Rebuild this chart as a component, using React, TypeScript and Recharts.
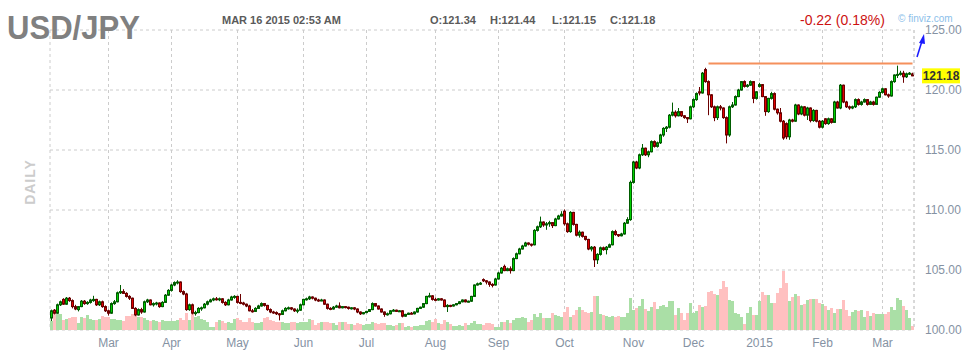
import React from "react";
import { Bar, CartesianGrid, Cell, ComposedChart, ReferenceLine, XAxis, YAxis } from "recharts";

// [open, high, low, close, volume] per trading day, grouped by month
type Candle = [number, number, number, number, number];

const feb14: Candle[] = [
  [101.0, 101.7, 100.75, 101.6, 9], [101.65, 101.75, 101.3, 101.4, 18], [101.4, 102.2, 101.35, 102.1, 16],
  [102.1, 102.45, 102.0, 102.35, 16], [102.55, 102.65, 102.1, 102.15, 10], [102.15, 102.75, 102.1, 102.65, 11],
  [102.65, 102.75, 102.35, 102.45, 12], [102.45, 102.55, 101.8, 101.95, 13], [101.95, 102.1, 101.65, 101.75, 13],
  [101.7, 102.0, 101.55, 101.95, 7], [101.95, 102.5, 101.9, 102.4, 13], [102.4, 102.5, 102.1, 102.2, 12],
  [102.2, 102.4, 102.1, 102.3, 15], [102.3, 102.6, 102.2, 102.5, 11], [102.45, 102.85, 102.35, 102.55, 10],
  [102.55, 102.6, 102.0, 102.1, 10], [102.1, 102.45, 102.0, 102.35, 11], [102.35, 102.45, 101.85, 101.95, 14],
  [101.95, 102.05, 101.5, 101.6, 13],
];
const mar14: Candle[] = [
  [101.6, 101.7, 101.2, 101.4, 13], [101.4, 102.3, 101.35, 102.2, 11], [102.2, 102.5, 102.1, 102.35, 11],
  [102.35, 103.2, 102.3, 103.1, 10], [103.1, 103.75, 103.0, 103.2, 10], [103.2, 103.4, 103.0, 103.05, 9],
  [103.05, 103.15, 102.7, 102.8, 14], [102.8, 102.9, 102.5, 102.65, 14], [102.65, 102.7, 101.75, 101.8, 16],
  [101.8, 101.9, 101.15, 101.25, 14], [101.25, 101.8, 101.2, 101.7, 13], [101.7, 101.85, 101.35, 101.5, 13],
  [101.5, 102.45, 101.45, 102.35, 12], [102.35, 102.6, 102.25, 102.5, 10], [102.5, 102.55, 102.05, 102.1, 9],
  [102.1, 102.3, 101.95, 102.2, 10], [102.2, 102.35, 102.05, 102.25, 9], [102.25, 102.3, 101.85, 101.95, 8],
  [101.95, 102.4, 101.9, 102.3, 10], [102.3, 103.0, 102.25, 102.9, 9], [102.9, 103.4, 102.85, 103.3, 9],
];
const apr14: Candle[] = [
  [103.3, 103.85, 103.2, 103.75, 9], [103.75, 104.05, 103.65, 103.95, 9], [103.95, 104.15, 103.8, 104.0, 10],
  [104.0, 104.05, 103.1, 103.2, 12], [103.2, 103.3, 102.9, 103.0, 10], [103.0, 103.1, 101.6, 101.7, 17],
  [101.7, 102.2, 101.6, 102.1, 10], [102.1, 102.2, 101.3, 101.4, 16], [101.4, 101.6, 101.2, 101.45, 13],
  [101.45, 101.9, 101.4, 101.8, 14], [101.8, 101.95, 101.6, 101.85, 11], [101.85, 102.25, 101.8, 102.15, 10],
  [102.15, 102.45, 102.05, 102.35, 8], [102.35, 102.6, 102.3, 102.5, 3], [102.5, 102.7, 102.4, 102.6, 3],
  [102.6, 102.75, 102.45, 102.55, 8], [102.55, 102.7, 102.4, 102.6, 10], [102.6, 102.65, 102.2, 102.3, 9],
  [102.3, 102.4, 102.0, 102.1, 7], [102.1, 102.6, 102.05, 102.5, 8], [102.5, 102.85, 102.45, 102.75, 7],
  [102.75, 102.9, 102.6, 102.8, 11],
];
const may14: Candle[] = [
  [102.8, 102.85, 102.2, 102.3, 12], [102.3, 103.0, 102.15, 102.25, 10], [102.25, 102.35, 102.05, 102.15, 8],
  [102.15, 102.2, 101.9, 102.0, 8], [102.0, 102.1, 101.55, 101.6, 12], [101.6, 101.75, 101.45, 101.55, 8],
  [101.55, 101.9, 101.5, 101.8, 7], [101.8, 102.1, 101.75, 102.0, 7], [102.0, 102.3, 101.95, 102.2, 8],
  [102.2, 102.25, 101.95, 102.05, 12], [102.05, 102.1, 101.6, 101.7, 13], [101.7, 101.8, 101.4, 101.5, 10],
  [101.5, 101.6, 101.35, 101.45, 9], [101.45, 101.55, 101.25, 101.35, 8], [101.35, 101.4, 100.8, 101.3, 8],
  [101.3, 101.7, 101.25, 101.6, 8], [101.6, 101.9, 101.55, 101.8, 7], [101.8, 101.95, 101.7, 101.85, 7],
  [101.85, 101.9, 101.65, 101.75, 8], [101.75, 101.8, 101.5, 101.6, 8], [101.6, 101.8, 101.4, 101.65, 7],
  [101.65, 102.2, 101.6, 102.1, 8],
];
const jun14: Candle[] = [
  [102.1, 102.6, 102.05, 102.55, 8], [102.55, 102.7, 102.45, 102.6, 8], [102.6, 102.85, 102.5, 102.75, 11],
  [102.75, 102.8, 102.55, 102.65, 10], [102.65, 102.7, 102.4, 102.5, 5], [102.5, 102.6, 102.35, 102.45, 7],
  [102.45, 102.6, 102.4, 102.5, 8], [102.5, 102.55, 102.1, 102.15, 8], [102.15, 102.2, 101.7, 101.8, 8],
  [101.8, 101.9, 101.65, 101.75, 7], [101.75, 102.0, 101.7, 101.9, 7], [101.9, 102.1, 101.85, 102.0, 5],
  [102.0, 102.3, 101.8, 101.85, 8], [101.85, 102.0, 101.8, 101.95, 8], [101.95, 102.0, 101.8, 101.9, 8],
  [101.9, 101.95, 101.7, 101.8, 6], [101.8, 101.9, 101.7, 101.85, 6], [101.85, 101.9, 101.65, 101.75, 5],
  [101.75, 101.8, 101.4, 101.5, 7], [101.5, 101.55, 101.25, 101.35, 6], [101.35, 101.5, 101.3, 101.45, 5],
];
const jul14: Candle[] = [
  [101.45, 101.6, 101.4, 101.55, 6], [101.55, 101.75, 101.5, 101.7, 6], [101.7, 102.3, 101.65, 102.2, 8],
  [102.2, 102.25, 101.95, 102.0, 7], [102.0, 102.05, 101.7, 101.75, 6], [101.75, 101.8, 101.45, 101.5, 7],
  [101.5, 101.55, 101.1, 101.3, 7], [101.3, 101.45, 101.2, 101.35, 5], [101.35, 101.65, 101.3, 101.6, 5],
  [101.6, 101.75, 101.55, 101.65, 4], [101.65, 101.7, 101.5, 101.55, 5], [101.55, 101.65, 101.5, 101.6, 7],
  [101.6, 101.65, 101.05, 101.15, 7], [101.15, 101.35, 101.1, 101.3, 3], [101.3, 101.45, 101.25, 101.4, 4],
  [101.4, 101.5, 101.3, 101.35, 3], [101.35, 101.55, 101.3, 101.5, 4], [101.5, 101.85, 101.45, 101.8, 4],
  [101.8, 101.95, 101.75, 101.9, 5], [101.9, 102.25, 101.85, 102.2, 5], [102.2, 102.85, 102.15, 102.8, 9],
  [102.8, 103.1, 102.7, 102.85, 10], [102.85, 102.9, 102.45, 102.55, 8],
];
const aug14: Candle[] = [
  [102.55, 102.7, 102.4, 102.5, 11], [102.5, 102.65, 102.45, 102.6, 7], [102.6, 102.65, 102.45, 102.5, 6],
  [102.5, 102.55, 101.9, 101.95, 10], [101.95, 102.15, 101.5, 102.05, 8], [102.05, 102.1, 101.9, 102.0, 6],
  [102.0, 102.15, 101.95, 102.1, 4], [102.1, 102.25, 102.05, 102.2, 4], [102.2, 102.4, 102.15, 102.35, 5],
  [102.35, 102.55, 102.3, 102.5, 4], [102.5, 102.55, 102.3, 102.35, 7], [102.35, 102.45, 102.3, 102.4, 5],
  [102.4, 102.85, 102.35, 102.8, 7], [102.8, 103.8, 102.75, 103.75, 9], [103.75, 103.95, 103.7, 103.85, 6],
  [103.85, 104.0, 103.75, 103.9, 6], [104.2, 104.3, 104.0, 104.1, 5], [104.1, 104.15, 103.8, 104.0, 7],
  [104.0, 104.05, 103.6, 103.8, 7], [103.8, 103.9, 103.55, 103.75, 6], [103.75, 104.35, 103.7, 104.25, 3],
];
const sep14: Candle[] = [
  [104.25, 104.85, 104.2, 104.75, 3], [104.75, 105.25, 104.7, 105.15, 8], [105.3, 105.45, 104.9, 104.95, 8],
  [104.95, 105.2, 104.9, 105.1, 10], [105.1, 105.3, 104.7, 104.95, 7], [104.95, 106.05, 104.9, 105.95, 10],
  [105.95, 106.45, 105.9, 106.35, 12], [106.35, 106.85, 106.3, 106.75, 12], [106.75, 107.1, 106.7, 107.0, 13],
  [107.0, 107.35, 106.95, 107.25, 12], [107.25, 107.3, 107.05, 107.15, 8], [107.15, 107.2, 106.95, 107.1, 10],
  [107.1, 108.4, 107.05, 108.3, 16], [108.3, 108.7, 108.2, 108.6, 13], [108.6, 109.45, 108.5, 109.0, 17],
  [109.0, 109.05, 108.6, 108.75, 12], [108.75, 109.0, 108.35, 108.85, 12], [108.85, 109.1, 108.6, 108.95, 12],
  [108.95, 109.0, 108.5, 108.7, 17], [108.7, 109.35, 108.65, 109.25, 15], [109.25, 109.6, 109.2, 109.5, 14],
  [109.5, 109.9, 109.45, 109.65, 13],
];
const oct14: Candle[] = [
  [109.9, 110.05, 108.7, 108.85, 18], [108.85, 108.95, 108.1, 108.2, 23], [108.2, 109.9, 108.1, 109.8, 13],
  [109.8, 109.85, 108.7, 108.8, 15], [108.8, 108.85, 107.8, 107.9, 20], [107.9, 108.3, 107.7, 108.15, 23],
  [108.15, 108.2, 107.7, 107.8, 20], [107.8, 107.85, 107.45, 107.55, 18], [107.55, 107.6, 106.65, 106.75, 17],
  [106.75, 107.0, 106.55, 106.9, 18], [106.9, 107.0, 105.25, 105.85, 34], [105.85, 106.4, 105.5, 106.3, 34],
  [106.3, 106.95, 106.2, 106.85, 16], [106.85, 106.95, 106.6, 106.7, 15], [106.7, 107.0, 106.3, 106.9, 14],
  [106.9, 107.2, 106.85, 107.1, 13], [107.1, 108.3, 107.05, 108.2, 14], [108.2, 108.35, 107.85, 107.95, 13],
  [107.95, 108.0, 107.75, 107.85, 14], [107.85, 108.1, 107.8, 108.0, 13], [108.0, 109.0, 107.95, 108.9, 13],
  [108.9, 109.4, 108.85, 109.2, 17], [109.2, 112.45, 109.1, 112.3, 32],
];
const nov14: Candle[] = [
  [112.3, 114.1, 112.2, 114.0, 20], [114.0, 114.1, 113.4, 113.5, 22], [113.5, 114.7, 113.4, 114.6, 24],
  [114.6, 115.5, 114.5, 115.15, 31], [115.15, 115.2, 114.5, 114.6, 21], [114.6, 114.95, 114.4, 114.85, 19],
  [114.85, 115.8, 114.8, 115.7, 23], [115.7, 115.8, 115.2, 115.3, 28], [115.3, 115.7, 115.2, 115.6, 21],
  [115.6, 116.35, 115.5, 116.25, 24], [116.25, 116.9, 116.1, 116.8, 25], [116.8, 117.0, 116.5, 116.9, 23],
  [116.9, 118.0, 116.8, 117.9, 29], [117.9, 118.95, 117.8, 118.15, 29], [118.15, 118.3, 117.7, 117.85, 15],
  [117.85, 118.5, 117.8, 118.2, 22], [118.2, 118.25, 117.75, 117.85, 17], [117.85, 117.9, 117.6, 117.7, 10],
  [117.7, 117.75, 117.25, 117.6, 17], [117.6, 118.7, 117.55, 118.6, 27],
];
const dec14: Candle[] = [
  [118.6, 119.3, 118.5, 119.2, 17], [119.2, 119.8, 119.1, 119.7, 19], [119.85, 120.25, 119.55, 119.75, 25],
  [119.75, 121.5, 119.7, 121.4, 23], [121.7, 121.85, 120.6, 120.7, 24], [120.7, 120.8, 117.9, 119.6, 38],
  [119.6, 119.65, 118.5, 118.6, 39], [118.6, 118.7, 117.4, 117.7, 36], [117.7, 118.7, 117.5, 118.6, 35],
  [118.6, 118.75, 118.3, 118.5, 41], [118.5, 118.55, 117.6, 117.7, 49], [117.7, 117.8, 115.55, 116.25, 43],
  [116.25, 118.7, 116.1, 118.6, 30], [118.6, 119.0, 118.5, 118.75, 29], [118.75, 119.55, 118.7, 119.45, 17],
  [119.45, 120.1, 119.4, 120.0, 16], [120.0, 120.75, 119.95, 120.7, 13], [120.7, 120.8, 120.2, 120.3, 6],
  [120.3, 120.5, 120.2, 120.4, 17], [120.4, 120.8, 120.35, 120.7, 23], [120.7, 120.75, 118.9, 119.3, 15],
  [119.3, 119.9, 119.2, 119.85, 15],
];
const jan15: Candle[] = [
  [120.3, 120.6, 120.2, 120.45, 29], [120.45, 120.5, 119.4, 119.45, 38], [119.45, 119.5, 117.85, 118.2, 35],
  [118.2, 119.35, 118.1, 119.3, 35], [119.3, 119.85, 119.2, 119.7, 27], [119.7, 119.8, 118.3, 118.4, 27],
  [118.4, 118.45, 117.95, 118.1, 37], [118.1, 118.5, 117.3, 117.4, 42], [117.4, 117.5, 115.85, 116.0, 59],
  [117.2, 117.3, 115.9, 116.1, 47], [116.1, 117.6, 115.85, 117.5, 29], [117.5, 117.6, 117.3, 117.4, 33],
  [117.4, 118.85, 117.35, 118.75, 36], [118.75, 118.8, 117.9, 118.0, 34], [118.0, 118.7, 117.9, 118.6, 25],
  [118.6, 118.65, 117.8, 117.9, 26], [117.9, 118.6, 117.5, 118.5, 30], [118.5, 118.55, 117.3, 117.45, 31],
  [117.45, 118.4, 117.35, 118.3, 31], [118.3, 118.35, 117.3, 117.4, 31], [117.4, 117.5, 116.8, 116.9, 27],
];
const feb15: Candle[] = [
  [116.9, 117.5, 116.8, 117.4, 26], [117.6, 117.65, 117.1, 117.2, 24], [117.2, 117.7, 117.1, 117.6, 20],
  [117.6, 117.65, 117.2, 117.3, 22], [117.3, 119.1, 117.25, 119.0, 17], [119.0, 119.1, 118.45, 118.5, 21],
  [118.5, 120.5, 118.4, 120.4, 21], [120.4, 120.45, 118.9, 119.0, 30], [119.0, 119.1, 118.5, 118.6, 20],
  [118.6, 118.7, 118.35, 118.5, 14], [118.5, 118.7, 118.4, 118.6, 18], [118.6, 119.3, 118.5, 119.2, 20],
  [119.2, 119.3, 118.7, 118.8, 19], [118.8, 119.1, 118.7, 119.0, 20], [119.0, 119.3, 118.95, 119.2, 13],
  [119.2, 119.25, 118.7, 118.8, 19], [118.8, 119.1, 118.75, 119.0, 14], [119.0, 119.1, 118.7, 118.8, 17],
  [118.8, 119.45, 118.75, 119.4, 16], [119.4, 119.9, 119.35, 119.8, 16],
];
const mar15: Candle[] = [
  [119.8, 120.2, 119.7, 120.1, 16], [120.1, 120.15, 119.55, 119.6, 16], [119.6, 119.7, 119.35, 119.5, 18],
  [119.5, 120.8, 119.45, 120.7, 23], [120.7, 121.3, 120.6, 121.25, 20], [121.25, 122.03, 121.0, 121.3, 32],
  [121.3, 121.6, 121.2, 121.4, 30], [121.4, 121.6, 120.6, 121.1, 24], [121.1, 121.45, 121.0, 121.35, 20],
  [121.35, 121.5, 121.25, 121.4, 12], [121.34, 121.44, 121.15, 121.18, 4],
];

const months: Candle[][] = [feb14, mar14, apr14, may14, jun14, jul14, aug14, sep14, oct14, nov14, dec14, jan15, feb15, mar15];
// label for the first day of each month after the opening (partial) February
const monthLabels = ["Mar", "Apr", "May", "Jun", "Jul", "Aug", "Sep", "Oct", "Nov", "Dec", "2015", "Feb", "Mar"];
const priceTicks = [100, 105, 110, 115, 120, 125];
const resistance = { from: 219, to: 287, level: 122.2 };
const lastClose = 121.18;

interface Row {
  idx: number;
  open: number;
  high: number;
  low: number;
  close: number;
  volume: number;
  up: boolean;
}

const data: Row[] = months.flat().map(([open, high, low, close, volume], idx) => ({
  idx, open, high, low, close, volume, up: close >= open,
}));

const monthStarts: number[] = [];
const tickLabel = new Map<number, string>();
{
  let start = 0;
  months.forEach((m, k) => {
    if (k > 0) {
      monthStarts.push(start);
      tickLabel.set(start, monthLabels[k - 1]);
    }
    start += m.length;
  });
}

const FONT = "'Liberation Sans', Arial, sans-serif";
const GRID = "#cccccc";

function CandleShape(props: any) {
  const { x, y, width, height, payload } = props;
  if (!payload) return null;
  const { open, close, high, low } = payload as Row;
  const top = Math.min(y, y + height);
  const span = Math.abs(height);
  const perUnit = high > low ? span / (high - low) : 0;
  const bodyTop = top + (high - Math.max(open, close)) * perUnit;
  const bodyBottom = top + (high - Math.min(open, close)) * perUnit;
  const up = close >= open;
  const edge = up ? "#005c00" : "#6b0000";
  const fill = up ? "#00d000" : "#e00000";
  const cx = x + width / 2;
  return (
    <g>
      <line x1={cx} x2={cx} y1={top} y2={top + span} stroke={edge} strokeWidth={1} />
      <rect
        x={x + 0.5}
        y={bodyTop}
        width={width - 1}
        height={Math.max(bodyBottom - bodyTop, 1)}
        fill={fill}
        stroke={edge}
        strokeWidth={1}
      />
    </g>
  );
}

function LastPriceTag(props: any) {
  const vb = props.viewBox;
  if (!vb) return null;
  const left = vb.x + vb.width + 8;
  return (
    <g>
      <rect x={left} y={vb.y - 7.5} width={38} height={15} fill="#ffff00" />
      <text x={left + 19} y={vb.y + 4.5} textAnchor="middle" fontSize={12} fontWeight="bold" fill="#333" fontFamily={FONT}>
        {lastClose.toFixed(2)}
      </text>
    </g>
  );
}

export default function App() {
  return (
    <div style={{ position: "absolute", left: 0, top: 0, width: 979, height: 361, background: "#fff", fontFamily: FONT }}>
      <ComposedChart
        width={979}
        height={361}
        data={data}
        margin={{ top: 30, right: 0, bottom: 1, left: 50 }}
        barCategoryGap={0}
        barGap={0}
      >
        <CartesianGrid xAxisId="main" yAxisId="price" stroke={GRID} strokeDasharray="3 3" />
        <XAxis
          xAxisId="main"
          dataKey="idx"
          type="category"
          ticks={monthStarts}
          interval={0}
          tickFormatter={(v) => tickLabel.get(Number(v)) ?? ""}
          axisLine={false}
          tickLine={false}
          height={30}
          tick={{ fill: "#8592a3", fontSize: 12, fontFamily: FONT }}
        />
        <XAxis xAxisId="vol" dataKey="idx" type="category" hide />
        <YAxis
          yAxisId="left"
          orientation="left"
          width={0}
          domain={[100, 125]}
          ticks={priceTicks}
          tick={false}
          tickLine={false}
          axisLine={{ stroke: GRID, strokeDasharray: "3 3" }}
        />
        <YAxis
          yAxisId="price"
          orientation="right"
          width={65}
          domain={[100, 125]}
          ticks={priceTicks}
          tickFormatter={(v) => Number(v).toFixed(2)}
          tickLine={false}
          tickMargin={5}
          axisLine={{ stroke: GRID, strokeDasharray: "3 3" }}
          tick={{ fill: "#8592a3", fontSize: 12, fontFamily: FONT }}
        />
        <YAxis yAxisId="vol" domain={[0, 300]} hide />
        <Bar xAxisId="vol" yAxisId="vol" dataKey="volume" isAnimationActive={false}>
          {data.map((d) => (
            <Cell key={d.idx} fill={d.up ? "#aadfa6" : "#ffc0c0"} />
          ))}
        </Bar>
        <Bar
          xAxisId="main"
          yAxisId="price"
          dataKey={(d: Row) => [d.low, d.high]}
          shape={<CandleShape />}
          isAnimationActive={false}
        />
        <ReferenceLine
          xAxisId="main"
          yAxisId="price"
          segment={[{ x: resistance.from, y: resistance.level }, { x: resistance.to, y: resistance.level }]}
          stroke="#f5905c"
          strokeWidth={2}
        />
        <ReferenceLine xAxisId="main" yAxisId="price" y={lastClose} stroke="none" label={<LastPriceTag />} />
      </ComposedChart>
      <svg width={979} height={361} style={{ position: "absolute", left: 0, top: 0, pointerEvents: "none" }}>
        <text x={7} y={39} fontSize={33} fontWeight="bold" fill="#808080" fontFamily={FONT} textLength={133} lengthAdjust="spacingAndGlyphs">
          USD/JPY
        </text>
        <g fontSize={11} fontWeight="bold" fill="#5a5a5a" fontFamily={FONT}>
          <text x={222} y={24}>MAR 16 2015 02:53 AM</text>
          <text x={430} y={24}>O:121.34</text>
          <text x={490} y={24}>H:121.44</text>
          <text x={552} y={24}>L:121.15</text>
          <text x={610} y={24}>C:121.18</text>
        </g>
        <text x={800} y={25} fontSize={14} fill="#cc1111" fontFamily={FONT}>-0.22 (0.18%)</text>
        <text x={898} y={22} fontSize={10} fill="#8cc0ea" fontFamily={FONT}>© finviz.com</text>
        <text
          x={30}
          y={182}
          transform="rotate(-90 30 182)"
          textAnchor="middle"
          dominantBaseline="central"
          fontSize={14}
          fontWeight="bold"
          letterSpacing={1}
          fill="#cccccc"
          fontFamily={FONT}
        >
          DAILY
        </text>
        <line x1={917} y1={57} x2={922} y2={41} stroke="#1a1aff" strokeWidth={1.5} />
        <polygon points="924,34 919,43 925,44" fill="#1a1aff" />
      </svg>
    </div>
  );
}
